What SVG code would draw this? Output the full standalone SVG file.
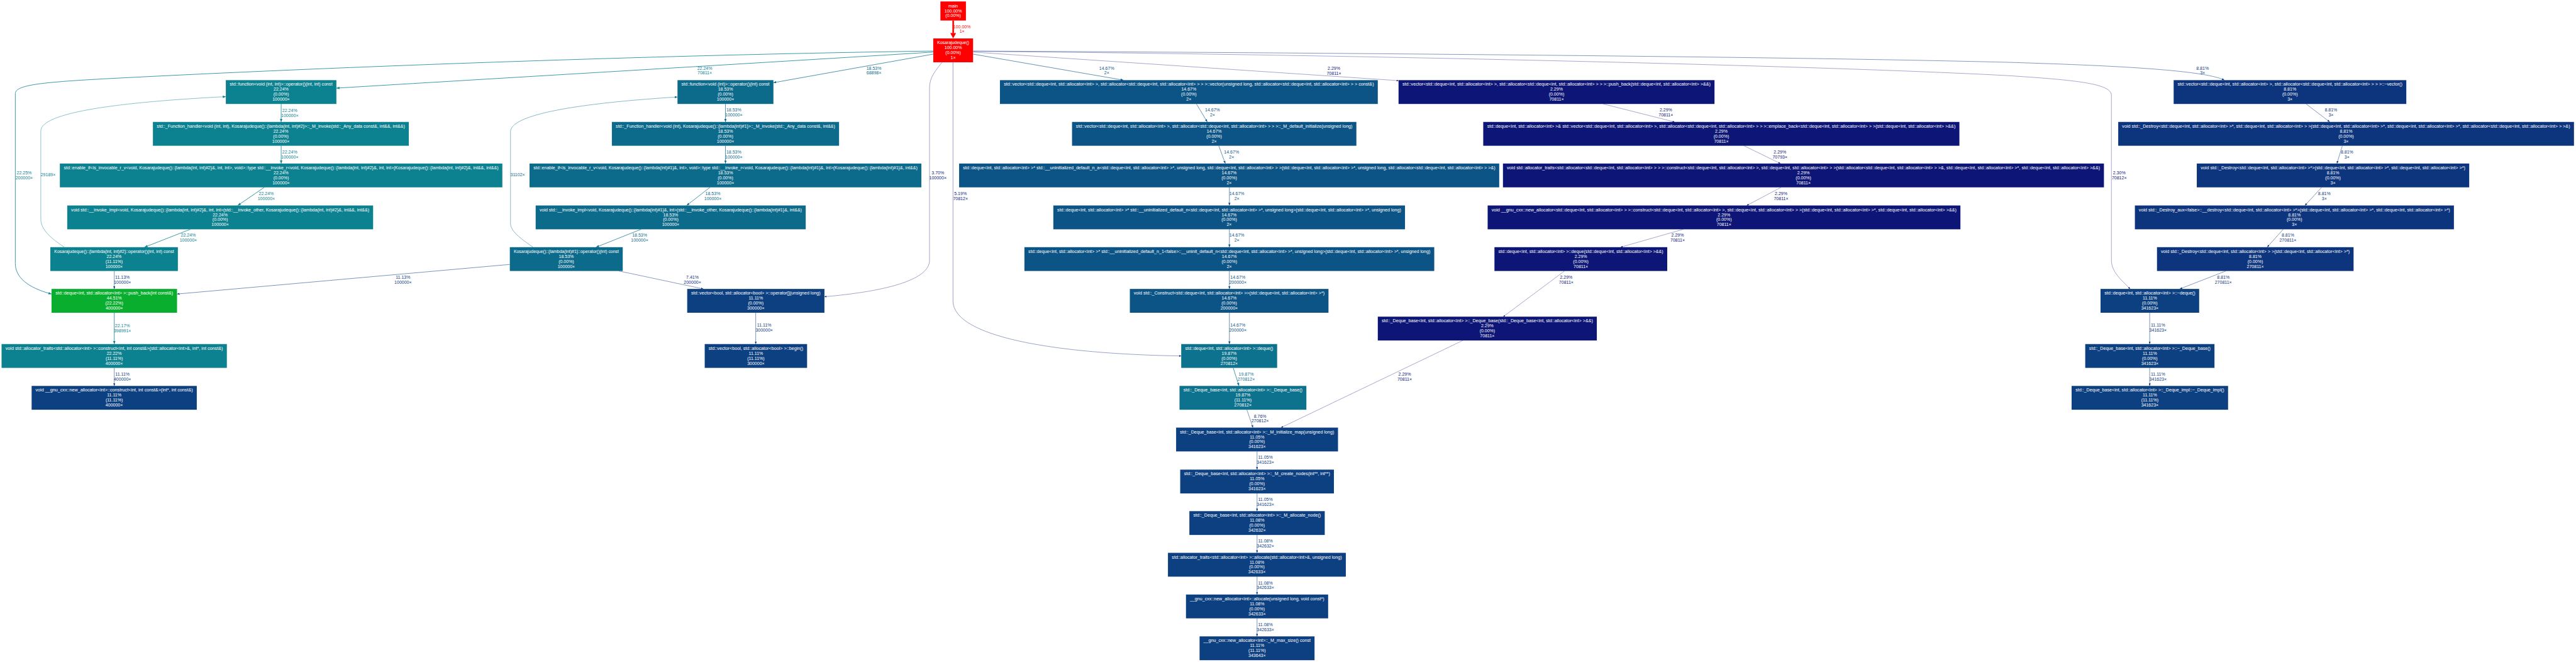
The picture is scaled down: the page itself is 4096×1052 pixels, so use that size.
<svg xmlns="http://www.w3.org/2000/svg" width="4096" height="1052" viewBox="0 0 4096 1052">
<style>
text{font-family:"Liberation Sans",Arial,Helvetica,sans-serif;font-size:13px}
.n text{fill:#fff;text-anchor:middle}
.lb{text-anchor:middle}
.c0{fill:#ff0000}.c1{fill:#0aae2e}.c2{fill:#0c8190}.c3{fill:#0c6a8b}.c4{fill:#0c728d}.c5{fill:#0c5486}.c6{fill:#0d4081}.c7{fill:#0d357e}.c8{fill:#0d1676}.c9{fill:#0d1d77}.c10{fill:#0d2379}.c11{fill:#0d2e7c}
#edges path{fill:none}
.s2{stroke:#0c8190;stroke-width:1.5;marker-end:url(#m2)}
.s3{stroke:#0c6a8b;stroke-width:1.35;marker-end:url(#m3)}
.s4{stroke:#0c728d;stroke-width:1.4;marker-end:url(#m4)}
.s5{stroke:#0c5486;stroke-width:1.18;marker-end:url(#m5)}
.s6{stroke:#0d4081;stroke-width:1.04;marker-end:url(#m6)}
.s7{stroke:#0d357e;stroke-width:0.95;marker-end:url(#m7)}
.s8{stroke:#0d1676;stroke-width:0.7;marker-end:url(#m8)}
.s9{stroke:#0d1d77;stroke-width:0.75;marker-end:url(#m9)}
.s10{stroke:#0d2379;stroke-width:0.8;marker-end:url(#m10)}
.s11{stroke:#0d2e7c;stroke-width:0.9;marker-end:url(#m11)}
.r2{stroke:#0c8190;stroke-width:0.9;marker-end:url(#m2)}
.r3{stroke:#0c6a8b;stroke-width:0.9;marker-end:url(#m3)}
</style>
<defs>
<marker id="m2" viewBox="0 0 9 7.2" refX="9" refY="3.6" markerWidth="9" markerHeight="7.2" markerUnits="userSpaceOnUse" orient="auto"><path d="M0,0L9,3.6L0,7.2z" fill="#0c8190"/></marker>
<marker id="m3" viewBox="0 0 8.6 6.9" refX="8.6" refY="3.45" markerWidth="8.6" markerHeight="6.9" markerUnits="userSpaceOnUse" orient="auto"><path d="M0,0L8.6,3.45L0,6.9z" fill="#0c6a8b"/></marker>
<marker id="m4" viewBox="0 0 8.75 7" refX="8.75" refY="3.5" markerWidth="8.75" markerHeight="7" markerUnits="userSpaceOnUse" orient="auto"><path d="M0,0L8.75,3.5L0,7z" fill="#0c728d"/></marker>
<marker id="m5" viewBox="0 0 8 6.4" refX="8" refY="3.2" markerWidth="8" markerHeight="6.4" markerUnits="userSpaceOnUse" orient="auto"><path d="M0,0L8,3.2L0,6.4z" fill="#0c5486"/></marker>
<marker id="m6" viewBox="0 0 7.5 6" refX="7.5" refY="3" markerWidth="7.5" markerHeight="6" markerUnits="userSpaceOnUse" orient="auto"><path d="M0,0L7.5,3L0,6z" fill="#0d4081"/></marker>
<marker id="m7" viewBox="0 0 7.2 5.8" refX="7.2" refY="2.9" markerWidth="7.2" markerHeight="5.8" markerUnits="userSpaceOnUse" orient="auto"><path d="M0,0L7.2,2.9L0,5.8z" fill="#0d357e"/></marker>
<marker id="m8" viewBox="0 0 6.1 4.9" refX="6.1" refY="2.45" markerWidth="6.1" markerHeight="4.9" markerUnits="userSpaceOnUse" orient="auto"><path d="M0,0L6.1,2.45L0,4.9z" fill="#0d1676"/></marker>
<marker id="m9" viewBox="0 0 6.4 5.1" refX="6.4" refY="2.55" markerWidth="6.4" markerHeight="5.1" markerUnits="userSpaceOnUse" orient="auto"><path d="M0,0L6.4,2.55L0,5.1z" fill="#0d1d77"/></marker>
<marker id="m10" viewBox="0 0 6.6 5.3" refX="6.6" refY="2.65" markerWidth="6.6" markerHeight="5.3" markerUnits="userSpaceOnUse" orient="auto"><path d="M0,0L6.6,2.65L0,5.3z" fill="#0d2379"/></marker>
<marker id="m11" viewBox="0 0 7 5.6" refX="7" refY="2.8" markerWidth="7" markerHeight="5.6" markerUnits="userSpaceOnUse" orient="auto"><path d="M0,0L7,2.8L0,5.6z" fill="#0d2e7c"/></marker>
</defs>
<rect x="0" y="0" width="4096" height="1052" fill="#fff"/>
<g transform="scale(0.5408)">
<g id="edges">
<path d="M2802.5,60.3V97.5" stroke="#ff0000" stroke-width="4.7"/>
<polygon points="2794,97 2811,97 2802.5,112.7" fill="#ff0000"/>
<text class="lb c0" x="2828.5" y="83">100.00%<tspan x="2828.5" dy="14">1×</tspan></text>
<path class="s2" d="M2744,153 C2300,181 1400,234 989,259"/>
<text class="lb c2" x="2072" y="204.6">22.24%<tspan x="2072" dy="14.5">70811×</tspan></text>
<path class="s2" d="M2744,150 C2000,160 1000,195 300,232 C120,242 45,250 45,275 L45,774 C45,814 80,845 151.5,864"/>
<text class="lb c2" x="71" y="511.6">22.25%<tspan x="71" dy="14.5">200000×</tspan></text>
<path class="s3" d="M2744,159 L2274,243"/>
<text class="lb c3" x="2569.5" y="204.6">18.53%<tspan x="2569.5" dy="14.5">68898×</tspan></text>
<path class="s9" d="M2770,183 C2750,208 2733,228 2733,258 L2733,765 C2733,811 2650,852 2424,872"/>
<text class="lb c9" x="2757.5" y="511.6">3.70%<tspan x="2757.5" dy="14.5">100000×</tspan></text>
<path class="s10" d="M2802,183 L2802,884 C2802,990 3100,1040 3473,1046"/>
<text class="lb c10" x="2824" y="573">5.19%<tspan x="2824" dy="14.5">70812×</tspan></text>
<path class="s5" d="M2861,159 L3303,235.5"/>
<text class="lb c5" x="3254" y="204.6">14.67%<tspan x="3254" dy="14.5">2×</tspan></text>
<path class="s8" d="M2861,153 L4112,237"/>
<text class="lb c8" x="3922" y="205.3">2.29%<tspan x="3922" dy="14.5">70811×</tspan></text>
<path class="s7" d="M2861,150 C3700,154 5200,165 5900,183 C6200,192 6480,205 6540,235.5"/>
<text class="lb c7" x="6476" y="204.6">8.81%<tspan x="6476" dy="14.5">3×</tspan></text>
<path class="s8" d="M2861,151 C3800,158 5300,190 5900,222 C6100,235 6208,245 6208,280 L6208,765 C6208,800 6240,825 6263,849"/>
<text class="lb c8" x="6231" y="511.6">2.30%<tspan x="6231" dy="14.5">70812×</tspan></text>

<path class="s2" d="M826.7,305.5V358.3"/>
<text class="lb c2" x="852" y="328.6">22.24%<tspan x="852" dy="14.5">100000×</tspan></text>
<path class="s2" d="M826.7,428.3V480.5"/>
<text class="lb c2" x="852" y="451.1">22.24%<tspan x="852" dy="14.5">100000×</tspan></text>
<path class="s2" d="M777,550.5 L699,603.8"/>
<text class="lb c2" x="783" y="573">22.24%<tspan x="783" dy="14.5">100000×</tspan></text>
<path class="s2" d="M559.6,673.8 L425,726.3"/>
<text class="lb c2" x="553.6" y="695.6">22.24%<tspan x="553.6" dy="14.5">100000×</tspan></text>
<path class="r2" d="M189,726.3 C150,700 120,675 120,644 L120,385 C120,330 350,300 664,284"/>
<text class="lb c2" x="141.5" y="518.6">29189×</text>
<path class="s6" d="M336,796.3V849"/>
<text class="lb c6" x="360" y="818.6">11.13%<tspan x="360" dy="14.5">100000×</tspan></text>
<path class="s2" d="M336,919V1011"/>
<text class="lb c2" x="360" y="961.3">22.17%<tspan x="360" dy="14.5">398991×</tspan></text>
<path class="s6" d="M336,1081V1134"/>
<text class="lb c6" x="360" y="1103.6">11.11%<tspan x="360" dy="14.5">400000×</tspan></text>

<path class="s3" d="M2133,305.5V358.3"/>
<text class="lb c3" x="2157.6" y="328.1">18.53%<tspan x="2157.6" dy="14.5">100000×</tspan></text>
<path class="s3" d="M2133,428.3V480.5"/>
<text class="lb c3" x="2157.6" y="450.6">18.53%<tspan x="2157.6" dy="14.5">100000×</tspan></text>
<path class="s3" d="M2087.5,550.5 L2018.8,603.8"/>
<text class="lb c3" x="2096" y="572.6">18.53%<tspan x="2096" dy="14.5">100000×</tspan></text>
<path class="s3" d="M1884.8,673.8 L1752.7,726.3"/>
<text class="lb c3" x="1880.6" y="695.6">18.53%<tspan x="1880.6" dy="14.5">100000×</tspan></text>
<path class="r3" d="M1567,726.3 C1530,700 1501,680 1501,656 L1501,387 C1501,330 1750,300 1992,285"/>
<text class="lb c3" x="1522" y="518.6">31102×</text>
<path class="s11" d="M1819.6,796.3 L2067.9,849"/>
<text class="lb c11" x="2036" y="818.6">7.41%<tspan x="2036" dy="14.5">200000×</tspan></text>
<path class="s6" d="M1499,777 L520.5,864"/>
<text class="lb c6" x="1185" y="818.6">11.13%<tspan x="1185" dy="14.5">100000×</tspan></text>
<path class="s6" d="M2222,919V1011"/>
<text class="lb c6" x="2247" y="960.6">11.11%<tspan x="2247" dy="14.5">300000×</tspan></text>

<path class="s5" d="M3517.7,305.5 L3549.6,358.3"/>
<text class="lb c5" x="3565" y="328.1">14.67%<tspan x="3565" dy="14.5">2×</tspan></text>
<path class="s5" d="M3583.4,428.3 L3602.6,480.5"/>
<text class="lb c5" x="3621" y="450.6">14.67%<tspan x="3621" dy="14.5">2×</tspan></text>
<path class="s5" d="M3614.7,550.5V603.8"/>
<text class="lb c5" x="3636.6" y="572.6">14.67%<tspan x="3636.6" dy="14.5">2×</tspan></text>
<path class="s5" d="M3614.7,673.8V726.3"/>
<text class="lb c5" x="3636.6" y="695.6">14.67%<tspan x="3636.6" dy="14.5">2×</tspan></text>
<path class="s5" d="M3614.7,796.3V849"/>
<text class="lb c5" x="3639.5" y="818.6">14.67%<tspan x="3639.5" dy="14.5">200000×</tspan></text>
<path class="s5" d="M3614.7,919V1011"/>
<text class="lb c5" x="3639.5" y="960.6">14.67%<tspan x="3639.5" dy="14.5">200000×</tspan></text>

<path class="s4" d="M3625.9,1081 L3642.9,1134"/>
<text class="lb c4" x="3664" y="1103.6">19.87%<tspan x="3664" dy="14.5">270812×</tspan></text>
<path class="s7" d="M3666,1204 L3684,1256.5"/>
<text class="lb c7" x="3705" y="1227">8.76%<tspan x="3705" dy="14">270812×</tspan></text>
<path class="s6" d="M3696,1326.5V1380"/>
<text class="lb c6" x="3720.6" y="1348.6">11.05%<tspan x="3720.6" dy="14.5">341623×</tspan></text>
<path class="s6" d="M3696,1450V1502"/>
<text class="lb c6" x="3720.6" y="1471.6">11.05%<tspan x="3720.6" dy="14.5">341623×</tspan></text>
<path class="s6" d="M3696,1572V1624.5"/>
<text class="lb c6" x="3720.6" y="1594.6">11.08%<tspan x="3720.6" dy="14.5">342632×</tspan></text>
<path class="s6" d="M3696,1694.5V1747"/>
<text class="lb c6" x="3720.6" y="1717.1">11.08%<tspan x="3720.6" dy="14.5">342633×</tspan></text>
<path class="s6" d="M3696,1817V1870"/>
<text class="lb c6" x="3720.6" y="1840.1">11.08%<tspan x="3720.6" dy="14.5">342633×</tspan></text>

<path class="s8" d="M4714,305.5 L4923.5,358.3"/>
<text class="lb c8" x="4898" y="328.1">2.29%<tspan x="4898" dy="14.5">70811×</tspan></text>
<path class="s8" d="M5127.6,428.3 L5234.7,480.5"/>
<text class="lb c8" x="5233.5" y="450.6">2.29%<tspan x="5233.5" dy="14.5">70793×</tspan></text>
<path class="s8" d="M5236.7,550.5 L5135.7,603.8"/>
<text class="lb c8" x="5236.7" y="572.6">2.29%<tspan x="5236.7" dy="14.5">70811×</tspan></text>
<path class="s8" d="M4949,673.8 L4765,726.3"/>
<text class="lb c8" x="4932.6" y="695.6">2.29%<tspan x="4932.6" dy="14.5">70811×</tspan></text>
<path class="s8" d="M4600,796.3 L4420,930.5"/>
<text class="lb c8" x="4605" y="818.6">2.29%<tspan x="4605" dy="14.5">70811×</tspan></text>
<path class="s8" d="M4301,1000.5 L3766.5,1256.5"/>
<text class="lb c8" x="4130" y="1104.6">2.29%<tspan x="4130" dy="14.5">70811×</tspan></text>

<path class="s7" d="M6780.5,305.5 L6850,358.3"/>
<text class="lb c7" x="6853.6" y="328.1">8.81%<tspan x="6853.6" dy="14.5">3×</tspan></text>
<path class="s7" d="M6887,428.3 L6871,480.5"/>
<text class="lb c7" x="6900.6" y="450.6">8.81%<tspan x="6900.6" dy="14.5">3×</tspan></text>
<path class="s7" d="M6826,550.5 L6777,603.8"/>
<text class="lb c7" x="6834" y="572.6">8.81%<tspan x="6834" dy="14.5">3×</tspan></text>
<path class="s7" d="M6713,673.8 L6666,726.3"/>
<text class="lb c7" x="6727" y="695.6">8.81%<tspan x="6727" dy="14.5">270811×</tspan></text>
<path class="s7" d="M6544.6,796.3 L6409,849"/>
<text class="lb c7" x="6537" y="818.6">8.81%<tspan x="6537" dy="14.5">270811×</tspan></text>
<path class="s6" d="M6320.5,919V1011"/>
<text class="lb c6" x="6345" y="960.6">11.11%<tspan x="6345" dy="14.5">341623×</tspan></text>
<path class="s6" d="M6320.5,1081V1134"/>
<text class="lb c6" x="6345" y="1103.6">11.11%<tspan x="6345" dy="14.5">341623×</tspan></text>
</g>

<g id="main" class="n"><rect class="c0" x="2765" y="4.3" width="75" height="56"/><text x="2802.5" y="21.5">main</text><text x="2802.5" y="36.1">100.00%<tspan x="2802.5" dy="14.6">(0.00%)</tspan></text></g>
<g id="kosarajudeque" class="n"><rect class="c0" x="2744" y="113" width="117" height="70"/><text x="2802.5" y="129.9" textLength="94" lengthAdjust="spacingAndGlyphs">Kosarajudeque()</text><text x="2802.5" y="144.5">100.00%<tspan x="2802.5" dy="14.6">(0.00%)</tspan><tspan x="2802.5" dy="14.6">1×</tspan></text></g>

<g id="fn2" class="n"><rect class="c2" x="664" y="235.5" width="325" height="70"/><text x="826.5" y="252.4" textLength="302" lengthAdjust="spacingAndGlyphs">std::function&lt;void (int, int)&gt;::operator()(int, int) const</text><text x="826.5" y="267">22.24%<tspan x="826.5" dy="14.6">(0.00%)</tspan><tspan x="826.5" dy="14.6">100000×</tspan></text></g>
<g id="fn1" class="n"><rect class="c3" x="1992" y="235.5" width="282" height="70"/><text x="2133" y="252.4" textLength="259" lengthAdjust="spacingAndGlyphs">std::function&lt;void (int)&gt;::operator()(int) const</text><text x="2133" y="267">18.53%<tspan x="2133" dy="14.6">(0.00%)</tspan><tspan x="2133" dy="14.6">100000×</tspan></text></g>
<g id="vec_ctor" class="n"><rect class="c5" x="2940" y="235.5" width="1111" height="70"/><text x="3495.5" y="252.4" textLength="1088" lengthAdjust="spacingAndGlyphs">std::vector&lt;std::deque&lt;int, std::allocator&lt;int&gt; &gt;, std::allocator&lt;std::deque&lt;int, std::allocator&lt;int&gt; &gt; &gt; &gt;::vector(unsigned long, std::allocator&lt;std::deque&lt;int, std::allocator&lt;int&gt; &gt; &gt; const&amp;)</text><text x="3495.5" y="267">14.67%<tspan x="3495.5" dy="14.6">(0.00%)</tspan><tspan x="3495.5" dy="14.6">2×</tspan></text></g>
<g id="vec_push_back" class="n"><rect class="c8" x="4112" y="235.5" width="929" height="70"/><text x="4576.5" y="252.4" textLength="906" lengthAdjust="spacingAndGlyphs">std::vector&lt;std::deque&lt;int, std::allocator&lt;int&gt; &gt;, std::allocator&lt;std::deque&lt;int, std::allocator&lt;int&gt; &gt; &gt; &gt;::push_back(std::deque&lt;int, std::allocator&lt;int&gt; &gt;&amp;&amp;)</text><text x="4576.5" y="267">2.29%<tspan x="4576.5" dy="14.6">(0.00%)</tspan><tspan x="4576.5" dy="14.6">70811×</tspan></text></g>
<g id="vec_dtor" class="n"><rect class="c7" x="6391" y="235.5" width="684" height="70"/><text x="6733" y="252.4" textLength="661" lengthAdjust="spacingAndGlyphs">std::vector&lt;std::deque&lt;int, std::allocator&lt;int&gt; &gt;, std::allocator&lt;std::deque&lt;int, std::allocator&lt;int&gt; &gt; &gt; &gt;::~vector()</text><text x="6733" y="267">8.81%<tspan x="6733" dy="14.6">(0.00%)</tspan><tspan x="6733" dy="14.6">3×</tspan></text></g>

<g id="fh2" class="n"><rect class="c2" x="449.6" y="358.3" width="752.4" height="70"/><text x="825.8" y="375.2" textLength="729.4" lengthAdjust="spacingAndGlyphs">std::_Function_handler&lt;void (int, int), Kosarajudeque()::{lambda(int, int)#2}&gt;::_M_invoke(std::_Any_data const&amp;, int&amp;&amp;, int&amp;&amp;)</text><text x="825.8" y="389.8">22.24%<tspan x="825.8" dy="14.6">(0.00%)</tspan><tspan x="825.8" dy="14.6">100000×</tspan></text></g>
<g id="fh1" class="n"><rect class="c3" x="1799" y="358.3" width="668" height="70"/><text x="2133" y="375.2" textLength="645" lengthAdjust="spacingAndGlyphs">std::_Function_handler&lt;void (int), Kosarajudeque()::{lambda(int)#1}&gt;::_M_invoke(std::_Any_data const&amp;, int&amp;&amp;)</text><text x="2133" y="389.8">18.53%<tspan x="2133" dy="14.6">(0.00%)</tspan><tspan x="2133" dy="14.6">100000×</tspan></text></g>
<g id="default_init" class="n"><rect class="c5" x="3152" y="358.3" width="836" height="70"/><text x="3570" y="375.2" textLength="813" lengthAdjust="spacingAndGlyphs">std::vector&lt;std::deque&lt;int, std::allocator&lt;int&gt; &gt;, std::allocator&lt;std::deque&lt;int, std::allocator&lt;int&gt; &gt; &gt; &gt;::_M_default_initialize(unsigned long)</text><text x="3570" y="389.8">14.67%<tspan x="3570" dy="14.6">(0.00%)</tspan><tspan x="3570" dy="14.6">2×</tspan></text></g>
<g id="emplace_back" class="n"><rect class="c8" x="4361" y="358.3" width="1400" height="70"/><text x="5061" y="375.2" textLength="1377" lengthAdjust="spacingAndGlyphs">std::deque&lt;int, std::allocator&lt;int&gt; &gt;&amp; std::vector&lt;std::deque&lt;int, std::allocator&lt;int&gt; &gt;, std::allocator&lt;std::deque&lt;int, std::allocator&lt;int&gt; &gt; &gt; &gt;::emplace_back&lt;std::deque&lt;int, std::allocator&lt;int&gt; &gt; &gt;(std::deque&lt;int, std::allocator&lt;int&gt; &gt;&amp;&amp;)</text><text x="5061" y="389.8">2.29%<tspan x="5061" dy="14.6">(0.00%)</tspan><tspan x="5061" dy="14.6">70811×</tspan></text></g>
<g id="destroy1" class="n"><rect class="c7" x="6228" y="358.3" width="1340" height="70"/><text x="6898" y="375.2" textLength="1317" lengthAdjust="spacingAndGlyphs">void std::_Destroy&lt;std::deque&lt;int, std::allocator&lt;int&gt; &gt;*, std::deque&lt;int, std::allocator&lt;int&gt; &gt; &gt;(std::deque&lt;int, std::allocator&lt;int&gt; &gt;*, std::deque&lt;int, std::allocator&lt;int&gt; &gt;*, std::allocator&lt;std::deque&lt;int, std::allocator&lt;int&gt; &gt; &gt;&amp;)</text><text x="6898" y="389.8">8.81%<tspan x="6898" dy="14.6">(0.00%)</tspan><tspan x="6898" dy="14.6">3×</tspan></text></g>

<g id="ei2" class="n"><rect class="c2" x="176" y="480.5" width="1301" height="70"/><text x="826.5" y="497.4" textLength="1278" lengthAdjust="spacingAndGlyphs">std::enable_if&lt;is_invocable_r_v&lt;void, Kosarajudeque()::{lambda(int, int)#2}&amp;, int, int&gt;, void&gt;::type std::__invoke_r&lt;void, Kosarajudeque()::{lambda(int, int)#2}&amp;, int, int&gt;(Kosarajudeque()::{lambda(int, int)#2}&amp;, int&amp;&amp;, int&amp;&amp;)</text><text x="826.5" y="512">22.24%<tspan x="826.5" dy="14.6">(0.00%)</tspan><tspan x="826.5" dy="14.6">100000×</tspan></text></g>
<g id="ei1" class="n"><rect class="c3" x="1557" y="480.5" width="1152" height="70"/><text x="2133" y="497.4" textLength="1129" lengthAdjust="spacingAndGlyphs">std::enable_if&lt;is_invocable_r_v&lt;void, Kosarajudeque()::{lambda(int)#1}&amp;, int&gt;, void&gt;::type std::__invoke_r&lt;void, Kosarajudeque()::{lambda(int)#1}&amp;, int&gt;(Kosarajudeque()::{lambda(int)#1}&amp;, int&amp;&amp;)</text><text x="2133" y="512">18.53%<tspan x="2133" dy="14.6">(0.00%)</tspan><tspan x="2133" dy="14.6">100000×</tspan></text></g>
<g id="uninit_n_a" class="n"><rect class="c5" x="2820" y="480.5" width="1588" height="70"/><text x="3614" y="497.4" textLength="1565" lengthAdjust="spacingAndGlyphs">std::deque&lt;int, std::allocator&lt;int&gt; &gt;* std::__uninitialized_default_n_a&lt;std::deque&lt;int, std::allocator&lt;int&gt; &gt;*, unsigned long, std::deque&lt;int, std::allocator&lt;int&gt; &gt; &gt;(std::deque&lt;int, std::allocator&lt;int&gt; &gt;*, unsigned long, std::allocator&lt;std::deque&lt;int, std::allocator&lt;int&gt; &gt; &gt;&amp;)</text><text x="3614" y="512">14.67%<tspan x="3614" dy="14.6">(0.00%)</tspan><tspan x="3614" dy="14.6">2×</tspan></text></g>
<g id="traits_construct" class="n"><rect class="c8" x="4419" y="480.5" width="1767" height="70"/><text x="5302.5" y="497.4" textLength="1744" lengthAdjust="spacingAndGlyphs">void std::allocator_traits&lt;std::allocator&lt;std::deque&lt;int, std::allocator&lt;int&gt; &gt; &gt; &gt;::construct&lt;std::deque&lt;int, std::allocator&lt;int&gt; &gt;, std::deque&lt;int, std::allocator&lt;int&gt; &gt; &gt;(std::allocator&lt;std::deque&lt;int, std::allocator&lt;int&gt; &gt; &gt;&amp;, std::deque&lt;int, std::allocator&lt;int&gt; &gt;*, std::deque&lt;int, std::allocator&lt;int&gt; &gt;&amp;&amp;)</text><text x="5302.5" y="512">2.29%<tspan x="5302.5" dy="14.6">(0.00%)</tspan><tspan x="5302.5" dy="14.6">70811×</tspan></text></g>
<g id="destroy2" class="n"><rect class="c7" x="6459" y="480.5" width="801" height="70"/><text x="6859.5" y="497.4" textLength="778" lengthAdjust="spacingAndGlyphs">void std::_Destroy&lt;std::deque&lt;int, std::allocator&lt;int&gt; &gt;*&gt;(std::deque&lt;int, std::allocator&lt;int&gt; &gt;*, std::deque&lt;int, std::allocator&lt;int&gt; &gt;*)</text><text x="6859.5" y="512">8.81%<tspan x="6859.5" dy="14.6">(0.00%)</tspan><tspan x="6859.5" dy="14.6">3×</tspan></text></g>

<g id="ii2" class="n"><rect class="c2" x="197.7" y="603.8" width="899.3" height="70"/><text x="647.35" y="620.7" textLength="876.3" lengthAdjust="spacingAndGlyphs">void std::__invoke_impl&lt;void, Kosarajudeque()::{lambda(int, int)#2}&amp;, int, int&gt;(std::__invoke_other, Kosarajudeque()::{lambda(int, int)#2}&amp;, int&amp;&amp;, int&amp;&amp;)</text><text x="647.35" y="635.3">22.24%<tspan x="647.35" dy="14.6">(0.00%)</tspan><tspan x="647.35" dy="14.6">100000×</tspan></text></g>
<g id="ii1" class="n"><rect class="c3" x="1575" y="603.8" width="794" height="70"/><text x="1972" y="620.7" textLength="771" lengthAdjust="spacingAndGlyphs">void std::__invoke_impl&lt;void, Kosarajudeque()::{lambda(int)#1}&amp;, int&gt;(std::__invoke_other, Kosarajudeque()::{lambda(int)#1}&amp;, int&amp;&amp;)</text><text x="1972" y="635.3">18.53%<tspan x="1972" dy="14.6">(0.00%)</tspan><tspan x="1972" dy="14.6">100000×</tspan></text></g>
<g id="uninit_n" class="n"><rect class="c5" x="3097" y="603.8" width="1034" height="70"/><text x="3614" y="620.7" textLength="1011" lengthAdjust="spacingAndGlyphs">std::deque&lt;int, std::allocator&lt;int&gt; &gt;* std::__uninitialized_default_n&lt;std::deque&lt;int, std::allocator&lt;int&gt; &gt;*, unsigned long&gt;(std::deque&lt;int, std::allocator&lt;int&gt; &gt;*, unsigned long)</text><text x="3614" y="635.3">14.67%<tspan x="3614" dy="14.6">(0.00%)</tspan><tspan x="3614" dy="14.6">2×</tspan></text></g>
<g id="newalloc_construct_deque" class="n"><rect class="c8" x="4374" y="603.8" width="1390" height="70"/><text x="5069" y="620.7" textLength="1367" lengthAdjust="spacingAndGlyphs">void __gnu_cxx::new_allocator&lt;std::deque&lt;int, std::allocator&lt;int&gt; &gt; &gt;::construct&lt;std::deque&lt;int, std::allocator&lt;int&gt; &gt;, std::deque&lt;int, std::allocator&lt;int&gt; &gt; &gt;(std::deque&lt;int, std::allocator&lt;int&gt; &gt;*, std::deque&lt;int, std::allocator&lt;int&gt; &gt;&amp;&amp;)</text><text x="5069" y="635.3">2.29%<tspan x="5069" dy="14.6">(0.00%)</tspan><tspan x="5069" dy="14.6">70811×</tspan></text></g>
<g id="destroy_aux" class="n"><rect class="c7" x="6277" y="603.8" width="938" height="70"/><text x="6746" y="620.7" textLength="915" lengthAdjust="spacingAndGlyphs">void std::_Destroy_aux&lt;false&gt;::__destroy&lt;std::deque&lt;int, std::allocator&lt;int&gt; &gt;*&gt;(std::deque&lt;int, std::allocator&lt;int&gt; &gt;*, std::deque&lt;int, std::allocator&lt;int&gt; &gt;*)</text><text x="6746" y="635.3">8.81%<tspan x="6746" dy="14.6">(0.00%)</tspan><tspan x="6746" dy="14.6">3×</tspan></text></g>

<g id="lambda2" class="n"><rect class="c2" x="148" y="726.3" width="375" height="70"/><text x="335.5" y="743.2" textLength="352" lengthAdjust="spacingAndGlyphs">Kosarajudeque()::{lambda(int, int)#2}::operator()(int, int) const</text><text x="335.5" y="757.8">22.24%<tspan x="335.5" dy="14.6">(11.11%)</tspan><tspan x="335.5" dy="14.6">100000×</tspan></text></g>
<g id="lambda1" class="n"><rect class="c3" x="1499" y="726.3" width="332" height="70"/><text x="1665" y="743.2" textLength="309" lengthAdjust="spacingAndGlyphs">Kosarajudeque()::{lambda(int)#1}::operator()(int) const</text><text x="1665" y="757.8">18.53%<tspan x="1665" dy="14.6">(0.00%)</tspan><tspan x="1665" dy="14.6">100000×</tspan></text></g>
<g id="uninit_n_1" class="n"><rect class="c5" x="3012" y="726.3" width="1205" height="70"/><text x="3614.5" y="743.2" textLength="1182" lengthAdjust="spacingAndGlyphs">std::deque&lt;int, std::allocator&lt;int&gt; &gt;* std::__uninitialized_default_n_1&lt;false&gt;::__uninit_default_n&lt;std::deque&lt;int, std::allocator&lt;int&gt; &gt;*, unsigned long&gt;(std::deque&lt;int, std::allocator&lt;int&gt; &gt;*, unsigned long)</text><text x="3614.5" y="757.8">14.67%<tspan x="3614.5" dy="14.6">(0.00%)</tspan><tspan x="3614.5" dy="14.6">2×</tspan></text></g>
<g id="deque_move" class="n"><rect class="c8" x="4394" y="726.3" width="508" height="70"/><text x="4648" y="743.2" textLength="485" lengthAdjust="spacingAndGlyphs">std::deque&lt;int, std::allocator&lt;int&gt; &gt;::deque(std::deque&lt;int, std::allocator&lt;int&gt; &gt;&amp;&amp;)</text><text x="4648" y="757.8">2.29%<tspan x="4648" dy="14.6">(0.00%)</tspan><tspan x="4648" dy="14.6">70811×</tspan></text></g>
<g id="destroy3" class="n"><rect class="c7" x="6342" y="726.3" width="578" height="70"/><text x="6631" y="743.2" textLength="555" lengthAdjust="spacingAndGlyphs">void std::_Destroy&lt;std::deque&lt;int, std::allocator&lt;int&gt; &gt; &gt;(std::deque&lt;int, std::allocator&lt;int&gt; &gt;*)</text><text x="6631" y="757.8">8.81%<tspan x="6631" dy="14.6">(0.00%)</tspan><tspan x="6631" dy="14.6">270811×</tspan></text></g>

<g id="push_back" class="n"><rect class="c1" x="151.5" y="849" width="369" height="70"/><text x="336" y="865.9" textLength="346" lengthAdjust="spacingAndGlyphs">std::deque&lt;int, std::allocator&lt;int&gt; &gt;::push_back(int const&amp;)</text><text x="336" y="880.5">44.51%<tspan x="336" dy="14.6">(22.22%)</tspan><tspan x="336" dy="14.6">400000×</tspan></text></g>
<g id="vecbool_op" class="n"><rect class="c6" x="2020.5" y="849" width="403.5" height="70"/><text x="2222.25" y="865.9" textLength="380.5" lengthAdjust="spacingAndGlyphs">std::vector&lt;bool, std::allocator&lt;bool&gt; &gt;::operator[](unsigned long)</text><text x="2222.25" y="880.5">11.11%<tspan x="2222.25" dy="14.6">(0.00%)</tspan><tspan x="2222.25" dy="14.6">300000×</tspan></text></g>
<g id="construct" class="n"><rect class="c5" x="3322" y="849" width="584" height="70"/><text x="3614" y="865.9" textLength="561" lengthAdjust="spacingAndGlyphs">void std::_Construct&lt;std::deque&lt;int, std::allocator&lt;int&gt; &gt;&gt;(std::deque&lt;int, std::allocator&lt;int&gt; &gt;*)</text><text x="3614" y="880.5">14.67%<tspan x="3614" dy="14.6">(0.00%)</tspan><tspan x="3614" dy="14.6">200000×</tspan></text></g>
<g id="deque_dtor" class="n"><rect class="c6" x="6176" y="849" width="290" height="70"/><text x="6321" y="865.9" textLength="267" lengthAdjust="spacingAndGlyphs">std::deque&lt;int, std::allocator&lt;int&gt; &gt;::~deque()</text><text x="6321" y="880.5">11.11%<tspan x="6321" dy="14.6">(0.00%)</tspan><tspan x="6321" dy="14.6">341623×</tspan></text></g>
<g id="deque_base_move" class="n"><rect class="c8" x="4051" y="930.5" width="644" height="70"/><text x="4373" y="947.4" textLength="621" lengthAdjust="spacingAndGlyphs">std::_Deque_base&lt;int, std::allocator&lt;int&gt; &gt;::_Deque_base(std::_Deque_base&lt;int, std::allocator&lt;int&gt; &gt;&amp;&amp;)</text><text x="4373" y="962">2.29%<tspan x="4373" dy="14.6">(0.00%)</tspan><tspan x="4373" dy="14.6">70811×</tspan></text></g>

<g id="traits_construct_int" class="n"><rect class="c2" x="4.6" y="1011" width="662.4" height="70"/><text x="335.8" y="1027.9" textLength="639.4" lengthAdjust="spacingAndGlyphs">void std::allocator_traits&lt;std::allocator&lt;int&gt; &gt;::construct&lt;int, int const&amp;&gt;(std::allocator&lt;int&gt;&amp;, int*, int const&amp;)</text><text x="335.8" y="1042.5">22.22%<tspan x="335.8" dy="14.6">(11.11%)</tspan><tspan x="335.8" dy="14.6">400000×</tspan></text></g>
<g id="vecbool_begin" class="n"><rect class="c6" x="2072" y="1011" width="301" height="70"/><text x="2222.5" y="1027.9" textLength="278" lengthAdjust="spacingAndGlyphs">std::vector&lt;bool, std::allocator&lt;bool&gt; &gt;::begin()</text><text x="2222.5" y="1042.5">11.11%<tspan x="2222.5" dy="14.6">(11.11%)</tspan><tspan x="2222.5" dy="14.6">300000×</tspan></text></g>
<g id="deque_ctor" class="n"><rect class="c4" x="3473" y="1011" width="282" height="70"/><text x="3614" y="1027.9" textLength="259" lengthAdjust="spacingAndGlyphs">std::deque&lt;int, std::allocator&lt;int&gt; &gt;::deque()</text><text x="3614" y="1042.5">19.87%<tspan x="3614" dy="14.6">(0.00%)</tspan><tspan x="3614" dy="14.6">270812×</tspan></text></g>
<g id="deque_base_dtor" class="n"><rect class="c6" x="6131" y="1011" width="380" height="70"/><text x="6321" y="1027.9" textLength="357" lengthAdjust="spacingAndGlyphs">std::_Deque_base&lt;int, std::allocator&lt;int&gt; &gt;::~_Deque_base()</text><text x="6321" y="1042.5">11.11%<tspan x="6321" dy="14.6">(0.00%)</tspan><tspan x="6321" dy="14.6">341623×</tspan></text></g>

<g id="newalloc_construct_int" class="n"><rect class="c6" x="93" y="1134" width="485.6" height="70"/><text x="335.8" y="1150.9" textLength="462.6" lengthAdjust="spacingAndGlyphs">void __gnu_cxx::new_allocator&lt;int&gt;::construct&lt;int, int const&amp;&gt;(int*, int const&amp;)</text><text x="335.8" y="1165.5">11.11%<tspan x="335.8" dy="14.6">(11.11%)</tspan><tspan x="335.8" dy="14.6">400000×</tspan></text></g>
<g id="deque_base_ctor" class="n"><rect class="c4" x="3468" y="1134" width="373" height="70"/><text x="3654.5" y="1150.9" textLength="350" lengthAdjust="spacingAndGlyphs">std::_Deque_base&lt;int, std::allocator&lt;int&gt; &gt;::_Deque_base()</text><text x="3654.5" y="1165.5">19.87%<tspan x="3654.5" dy="14.6">(11.11%)</tspan><tspan x="3654.5" dy="14.6">270812×</tspan></text></g>
<g id="deque_impl_dtor" class="n"><rect class="c6" x="6091" y="1134" width="460" height="70"/><text x="6321" y="1150.9" textLength="437" lengthAdjust="spacingAndGlyphs">std::_Deque_base&lt;int, std::allocator&lt;int&gt; &gt;::_Deque_impl::~_Deque_impl()</text><text x="6321" y="1165.5">11.11%<tspan x="6321" dy="14.6">(11.11%)</tspan><tspan x="6321" dy="14.6">341623×</tspan></text></g>

<g id="init_map" class="n"><rect class="c6" x="3458" y="1256.5" width="476" height="70"/><text x="3696" y="1273.4" textLength="453" lengthAdjust="spacingAndGlyphs">std::_Deque_base&lt;int, std::allocator&lt;int&gt; &gt;::_M_initialize_map(unsigned long)</text><text x="3696" y="1288">11.05%<tspan x="3696" dy="14.6">(0.00%)</tspan><tspan x="3696" dy="14.6">341623×</tspan></text></g>
<g id="create_nodes" class="n"><rect class="c6" x="3470" y="1380" width="452" height="70"/><text x="3696" y="1396.9" textLength="429" lengthAdjust="spacingAndGlyphs">std::_Deque_base&lt;int, std::allocator&lt;int&gt; &gt;::_M_create_nodes(int**, int**)</text><text x="3696" y="1411.5">11.05%<tspan x="3696" dy="14.6">(0.00%)</tspan><tspan x="3696" dy="14.6">341623×</tspan></text></g>
<g id="allocate_node" class="n"><rect class="c6" x="3497" y="1502" width="398" height="70"/><text x="3696" y="1518.9" textLength="375" lengthAdjust="spacingAndGlyphs">std::_Deque_base&lt;int, std::allocator&lt;int&gt; &gt;::_M_allocate_node()</text><text x="3696" y="1533.5">11.08%<tspan x="3696" dy="14.6">(0.00%)</tspan><tspan x="3696" dy="14.6">342632×</tspan></text></g>
<g id="traits_allocate" class="n"><rect class="c6" x="3434" y="1624.5" width="523" height="70"/><text x="3695.5" y="1641.4" textLength="500" lengthAdjust="spacingAndGlyphs">std::allocator_traits&lt;std::allocator&lt;int&gt; &gt;::allocate(std::allocator&lt;int&gt;&amp;, unsigned long)</text><text x="3695.5" y="1656">11.08%<tspan x="3695.5" dy="14.6">(0.00%)</tspan><tspan x="3695.5" dy="14.6">342633×</tspan></text></g>
<g id="newalloc_allocate" class="n"><rect class="c6" x="3487" y="1747" width="418" height="70"/><text x="3696" y="1763.9" textLength="395" lengthAdjust="spacingAndGlyphs">__gnu_cxx::new_allocator&lt;int&gt;::allocate(unsigned long, void const*)</text><text x="3696" y="1778.5">11.08%<tspan x="3696" dy="14.6">(0.00%)</tspan><tspan x="3696" dy="14.6">342633×</tspan></text></g>
<g id="max_size" class="n"><rect class="c6" x="3527" y="1870" width="338" height="70"/><text x="3696" y="1886.9" textLength="315" lengthAdjust="spacingAndGlyphs">__gnu_cxx::new_allocator&lt;int&gt;::_M_max_size() const</text><text x="3696" y="1901.5">11.11%<tspan x="3696" dy="14.6">(11.11%)</tspan><tspan x="3696" dy="14.6">343643×</tspan></text></g>
</g>
</svg>
